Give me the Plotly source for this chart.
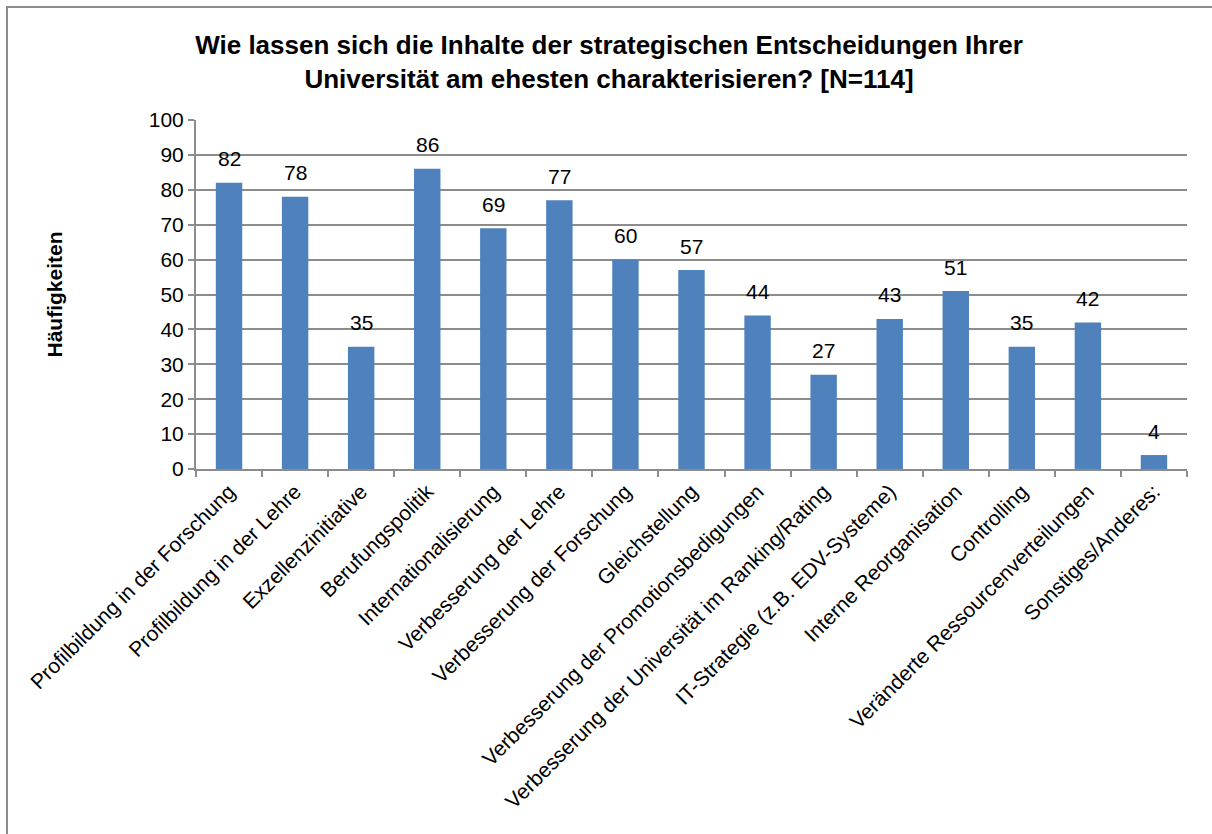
import plotly.graph_objects as go

categories = [
    "Profilbildung in der Forschung",
    "Profilbildung in der Lehre",
    "Exzellenzinitiative",
    "Berufungspolitik",
    "Internationalisierung",
    "Verbesserung der Lehre",
    "Verbesserung der Forschung",
    "Gleichstellung",
    "Verbesserung der Promotionsbedigungen",
    "Verbesserung der Universität im Ranking/Rating",
    "IT-Strategie (z.B. EDV-Systeme)",
    "Interne Reorganisation",
    "Controlling",
    "Veränderte Ressourcenverteilungen",
    "Sonstiges/Anderes:",
]
values = [82, 78, 35, 86, 69, 77, 60, 57, 44, 27, 43, 51, 35, 42, 4]
y_ticks = list(range(0, 101, 10))

title_text = ("<b>Wie lassen sich die Inhalte der strategischen Entscheidungen Ihrer<br>"
              "Universität am ehesten charakterisieren? [N=114]</b>")

W, H = 1212, 834
L, R, T, B = 196, 25, 120, 365
pw, ph = W - L - R, H - T - B
FONT = "Liberation Sans, Arial"
GRID = "#8C8C8C"

def px_x(p):
    return (p - L) / pw

def px_y(p):
    return (H - B - p) / ph

fig = go.Figure(go.Bar(
    x=categories, y=values,
    marker=dict(color="#4F81BD", line=dict(color="#4F81BD", width=0)),
    hoverinfo="x+y",
))

for c, v in zip(categories, values):
    fig.add_annotation(x=c, y=v, text=str(v), showarrow=False,
                       xanchor="center", yanchor="middle", yshift=24,
                       font=dict(family=FONT, size=21, color="#000000"))

fig.update_layout(
    width=W, height=H,
    margin=dict(l=L, r=R, t=T, b=B),
    paper_bgcolor="white", plot_bgcolor="white",
    bargap=0.6,
    showlegend=False,
    font=dict(family=FONT, size=20, color="#000000"),
    title=dict(text=title_text, x=609 / W, xanchor="center", y=1 - 54 / H, yanchor="middle",
               font=dict(family=FONT, size=26, color="#000000")),
    xaxis=dict(
        type="category", tickangle=-45, showgrid=False,
        showline=True, linecolor=GRID, linewidth=2,
        ticks="outside", tickson="boundaries", ticklen=6, tickcolor=GRID, tickwidth=2,
        tickfont=dict(family=FONT, size=21, color="#000000"),
    ),
    yaxis=dict(
        range=[0, 100], tickvals=y_ticks, showgrid=True, gridcolor=GRID, gridwidth=1.5,
        showline=True, linecolor=GRID, linewidth=2,
        ticks="outside", ticklen=6, tickcolor=GRID, tickwidth=2,
        tickfont=dict(family=FONT, size=21, color="#000000"),
        zeroline=False,
        title=dict(text="<b>Häufigkeiten</b>", standoff=80,
                   font=dict(family=FONT, size=21, color="#000000")),
    ),
    shapes=[dict(type="rect", xref="paper", yref="paper",
                 x0=px_x(7), x1=px_x(1230), y0=px_y(850), y1=px_y(7),
                 line=dict(color="#8C8C8C", width=2), fillcolor="rgba(0,0,0,0)", layer="below")],
)

fig.write_html("out.html", config={"displayModeBar": False},
               post_script="document.body.style.margin='0';document.body.style.overflow='hidden';")
